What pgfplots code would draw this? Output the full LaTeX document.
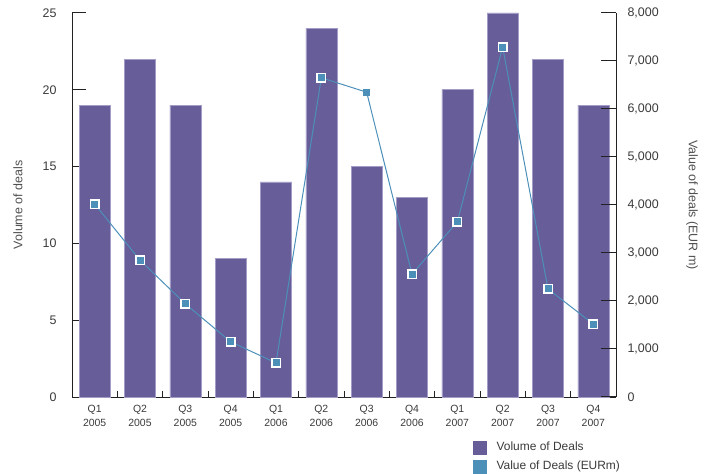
\documentclass[border=0pt]{standalone}
\usepackage{fontspec}
\setmainfont{Liberation Sans}
\usepackage{pgfplots}
\pgfplotsset{compat=1.18}

\definecolor{volpurple}{HTML}{675D98}
\definecolor{voledge}{HTML}{A39CC6}
\definecolor{valblue}{HTML}{4C90BA}
\definecolor{axisgray}{HTML}{222222}
\definecolor{textgray}{HTML}{3A3A3A}
\definecolor{labelgray}{HTML}{505050}

\begin{document}
\begin{tikzpicture}
\useasboundingbox (0,0) rectangle (709bp,474bp);

% Volume of deals (bars, left axis)
\begin{axis}[
  at={(72bp,77bp)}, anchor=south west,
  scale only axis, width=544bp, height=384bp,
  xmin=-0.5, xmax=11.5, ymin=0, ymax=25,
  axis x line*=bottom, axis y line*=left,
  axis line style={draw=axisgray, line width=1bp, -},
  tick align=inside,
  xtick={0,...,11},
  xticklabels={{Q1\\2005},{Q2\\2005},{Q3\\2005},{Q4\\2005},
               {Q1\\2006},{Q2\\2006},{Q3\\2006},{Q4\\2006},
               {Q1\\2007},{Q2\\2007},{Q3\\2007},{Q4\\2007}},
  xticklabel style={align=center, font=\fontsize{10.5}{13.5}\selectfont, text=textgray, yshift=-5bp},
  x tick style={draw=none},
  minor xtick={0.5,1.5,...,10.5},
  minor tick length=6bp,
  minor x tick style={draw=axisgray, line width=1bp},
  ytick={0,5,...,25},
  major tick length=14bp,
  y tick style={draw=axisgray, line width=1bp},
  yticklabel style={font=\fontsize{12.5}{14}\selectfont, text=textgray, xshift=-12bp},
  /pgf/number format/assume math mode=true,
  ylabel={Volume of deals},
  every axis y label/.style={at={(-54bp,0.5)}, rotate=90, anchor=center,
    font=\fontsize{12.5}{15}\selectfont, text=labelgray},
  clip=false,
]
\addplot[ybar, bar width=31bp, bar shift=0pt, fill=volpurple, draw=voledge, line width=0.6bp]
  coordinates {(0,19) (1,22) (2,19) (3,9) (4,14) (5,24) (6,15) (7,13) (8,20) (9,25) (10,22) (11,19)};
\end{axis}

% Value of deals (line, right axis)
\begin{axis}[
  at={(72bp,77bp)}, anchor=south west,
  scale only axis, width=544bp, height=384bp,
  xmin=-0.5, xmax=11.5, ymin=0, ymax=8000,
  axis x line=none, axis y line*=right,
  axis line style={draw=axisgray, line width=1bp, -},
  tick align=inside,
  ytick={0,1000,...,8000},
  scaled y ticks=false,
  major tick length=15bp,
  y tick style={draw=axisgray, line width=1bp},
  yticklabel style={font=\fontsize{12.5}{14}\selectfont, text=textgray, xshift=8bp,
    /pgf/number format/.cd, 1000 sep={,}, fixed},
  /pgf/number format/assume math mode=true,
  ylabel={Value of deals (EUR m)},
  every axis y label/.style={at={(618bp-72bp+74bp,0.5)}, rotate=-90, anchor=center,
    font=\fontsize{12.5}{15}\selectfont, text=labelgray},
  clip=false,
  legend style={at={(401bp,-43bp)}, anchor=north west, draw=none, fill=none,
    font=\fontsize{12}{14}\selectfont, text=textgray, row sep=5bp,
    inner sep=0pt, cells={anchor=west},
    nodes={inner xsep=10bp}},
]
\addlegendimage{legend image code/.code={\fill[volpurple] (0bp,-6.5bp) rectangle (13bp,6.5bp);}}
\addlegendentry{Volume of Deals}
\addlegendimage{legend image code/.code={\fill[valblue] (0bp,-6.5bp) rectangle (13bp,6.5bp);}}
\addlegendentry{Value of Deals (EURm)}

\addplot[valblue, line width=1bp, mark=none, forget plot]
  coordinates {(0,4020) (1,2850) (2,1940) (3,1150) (4,710) (5,6650) (6,6350) (7,2560) (8,3650) (9,7290) (10,2250) (11,1520)};
\addplot[only marks, mark=square*, mark size=4.2bp,
  mark options={fill=valblue, draw=white, line width=1.4bp}, forget plot]
  coordinates {(0,4020) (1,2850) (2,1940) (3,1150) (4,710) (5,6650) (7,2560) (8,3650) (9,7290) (10,2250) (11,1520)};
\addplot[only marks, mark=square*, mark size=3bp,
  mark options={fill=valblue, draw=valblue}, forget plot]
  coordinates {(6,6350)};
\end{axis}
\end{tikzpicture}
\end{document}
